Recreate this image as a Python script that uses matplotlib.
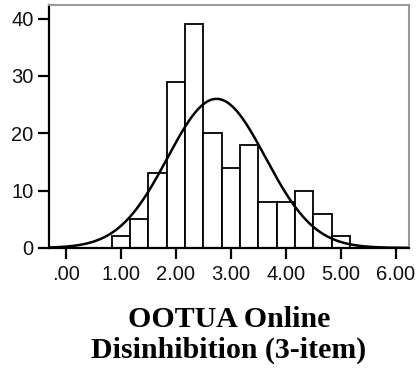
import numpy as np
import matplotlib
matplotlib.use("Agg")
import matplotlib.pyplot as plt

# histogram bins (width 1/3, first edge at .833)
bin_edges = [0.8333 + i / 3 for i in range(14)]
counts = [2, 5, 13, 29, 39, 20, 14, 18, 8, 8, 10, 6, 2]

# normal curve parameters
mean = 2.74
sd = 0.89
n_total = sum(counts)
bin_w = 1 / 3

x_ticks = [0, 1, 2, 3, 4, 5, 6]
x_labels = [".00", "1.00", "2.00", "3.00", "4.00", "5.00", "6.00"]
y_ticks = [0, 10, 20, 30, 40]

fig = plt.figure(figsize=(4.17, 3.70), dpi=100)
ax = fig.add_axes([0.1175, 0.330, 0.863, 0.657])

# bars
lefts = np.array(bin_edges[:-1])
ax.bar(lefts, counts, width=bin_w, align="edge", color="white",
       edgecolor="black", linewidth=1.3, zorder=2)

# normal curve
xs = np.linspace(-0.3, 6.2, 400)
ys = n_total * bin_w / (sd * np.sqrt(2 * np.pi)) * np.exp(-(xs - mean) ** 2 / (2 * sd ** 2))
ax.plot(xs, ys, color="black", linewidth=1.8, zorder=3)

ax.set_xlim(-0.31, 6.24)
ax.set_ylim(0, 42.4)
ax.set_xticks(x_ticks)
ax.set_xticklabels(x_labels)
ax.set_yticks(y_ticks)

for lab in ax.get_xticklabels() + ax.get_yticklabels():
    lab.set_family("Liberation Sans")
    lab.set_fontsize(14.5)
    lab.set_color("#111111")

ax.tick_params(axis="both", direction="out", length=8, width=1.6, color="black", pad=3)
ax.tick_params(axis="x", pad=4)

ax.spines["left"].set_linewidth(1.6)
ax.spines["bottom"].set_linewidth(1.6)
ax.spines["top"].set_color("#999999")
ax.spines["right"].set_color("#999999")
ax.spines["top"].set_linewidth(1.5)
ax.spines["right"].set_linewidth(1.5)

ax.set_xlabel("OOTUA Online\nDisinhibition (3-item)", family="Liberation Serif",
              fontweight="bold", fontsize=21.5, labelpad=16, linespacing=1.2)

fig.savefig("out.png", dpi=100)
